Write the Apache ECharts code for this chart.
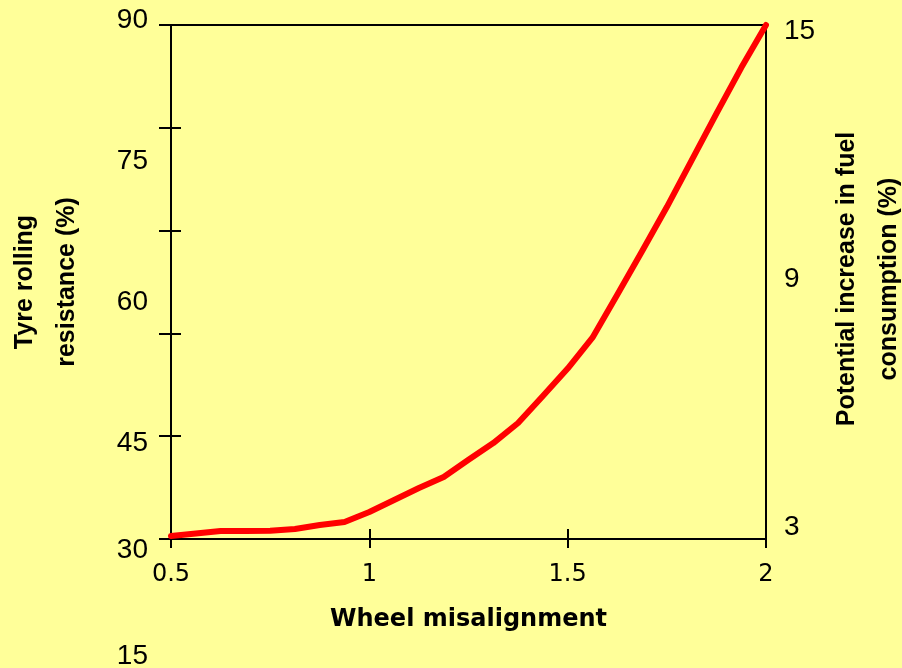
<!DOCTYPE html>
<html>
<head>
<meta charset="utf-8">
<script src="https://cdn.jsdelivr.net/npm/echarts@6/dist/echarts.min.js"></script>
<style>
  html, body { margin: 0; padding: 0; background: #FFFF99; }
  #chart { width: 902px; height: 668px; }
</style>
</head>
<body>
<div id="chart"></div>
<script>
// ---- data ----
const misalignment = [0.5, 0.5625, 0.625, 0.6875, 0.75, 0.8125, 0.875, 0.9375, 1.0, 1.0625, 1.125, 1.1875, 1.25,
  1.3125, 1.375, 1.4375, 1.5, 1.5625, 1.625, 1.6875, 1.75, 1.8125, 1.875, 1.9375, 2.0];
const rollingResistance = [30.35, 30.64, 30.93, 30.93, 30.95, 31.17, 31.63, 31.98, 33.15, 34.55, 35.95, 37.24, 39.26,
  41.2, 43.54, 46.7, 49.9, 53.5, 58.5, 63.6, 68.75, 74.2, 79.65, 85.0, 90.0];

const xTickValues = [0.5, 1, 1.5, 2];
const leftTickValues = [30, 42, 54, 66, 78, 90];
const leftLabelsUpper = [45, 60, 75, 90];
const leftLabelsLower = [15, 30];
const rightLabels = [3, 9, 15];

const xTitle = 'Wheel misalignment';
const leftTitle = 'Tyre rolling\nresistance (%)';
const rightTitle = 'Potential increase in fuel\nconsumption (%)';

// ---- chart ----
const chart = echarts.init(document.getElementById('chart'), null, { renderer: 'canvas' });
const black = '#000000';
const numFont = 'Liberation Sans';
const G = { left: 171, right: 136 };

const hiddenX = (gi) => ({ gridIndex: gi, type: 'value', show: false, min: 0, max: 1 });

const option = {
  backgroundColor: '#FFFF99',
  animation: false,
  grid: [
    { left: G.left, right: G.right, top: 25, bottom: 129, show: true, borderColor: black, borderWidth: 2,
      backgroundColor: 'transparent', outerBoundsMode: 'none' },
    { left: G.left, right: G.right, top: 20, height: 423, outerBoundsMode: 'none' },
    { left: G.left, right: G.right, top: 550, height: 106, outerBoundsMode: 'none' },
    { left: G.left, right: G.right, top: 31, height: 496, outerBoundsMode: 'none' }
  ],
  xAxis: [
    {
      gridIndex: 0, type: 'value', position: 'bottom',
      min: Math.min(...xTickValues), max: Math.max(...xTickValues), interval: 0.5,
      axisLine: { show: true, lineStyle: { color: black, width: 2 } },
      axisTick: { show: true, inside: false, length: 9, customValues: xTickValues, lineStyle: { color: black, width: 2 } },
      axisLabel: { show: true, customValues: xTickValues, margin: 24, color: black, fontSize: 24, fontFamily: 'DejaVu Sans' },
      splitLine: { show: false },
      name: xTitle, nameLocation: 'middle', nameGap: 69,
      nameTextStyle: { color: black, fontSize: 24, fontWeight: 'bold', fontFamily: 'DejaVu Sans' }
    },
    {
      gridIndex: 0, type: 'value', position: 'bottom',
      min: Math.min(...xTickValues), max: Math.max(...xTickValues), interval: 0.5,
      axisLine: { show: true, lineStyle: { color: black, width: 2 } },
      axisTick: { show: true, inside: true, length: 10, customValues: xTickValues, lineStyle: { color: black, width: 2 } },
      axisLabel: { show: false },
      splitLine: { show: false }
    },
    hiddenX(1), hiddenX(2), hiddenX(3)
  ],
  yAxis: [
    {
      gridIndex: 0, type: 'value', position: 'left',
      min: Math.min(...leftTickValues), max: Math.max(...leftTickValues),
      axisLine: { show: true, lineStyle: { color: black, width: 2 } },
      axisTick: { show: true, inside: false, length: 12, customValues: leftTickValues, lineStyle: { color: black, width: 2 } },
      axisLabel: { show: false },
      splitLine: { show: false },
      name: leftTitle, nameLocation: 'middle', nameRotate: 90, nameGap: 83,
      nameTextStyle: { color: black, fontSize: 25, fontWeight: 'bold', fontFamily: numFont, lineHeight: 42 }
    },
    {
      gridIndex: 0, type: 'value', position: 'left',
      min: Math.min(...leftTickValues), max: Math.max(...leftTickValues),
      axisLine: { show: true, lineStyle: { color: black, width: 2 } },
      axisTick: { show: true, inside: true, length: 10, customValues: leftTickValues, lineStyle: { color: black, width: 2 } },
      axisLabel: { show: false },
      splitLine: { show: false }
    },
    {
      gridIndex: 1, type: 'value', position: 'left',
      min: Math.min(...leftLabelsUpper), max: Math.max(...leftLabelsUpper), interval: 15,
      axisLine: { show: false }, axisTick: { show: false }, splitLine: { show: false },
      axisLabel: { show: true, customValues: leftLabelsUpper, margin: 23, color: black, fontSize: 28, fontFamily: numFont }
    },
    {
      gridIndex: 2, type: 'value', position: 'left',
      min: Math.min(...leftLabelsLower), max: Math.max(...leftLabelsLower), interval: 15,
      axisLine: { show: false }, axisTick: { show: false }, splitLine: { show: false },
      axisLabel: { show: true, customValues: leftLabelsLower, margin: 23, color: black, fontSize: 28, fontFamily: numFont }
    },
    {
      gridIndex: 3, type: 'value', position: 'right',
      min: Math.min(...rightLabels), max: Math.max(...rightLabels),
      axisLine: { show: false }, axisTick: { show: false }, splitLine: { show: false },
      axisLabel: { show: true, customValues: rightLabels, margin: 18, color: black, fontSize: 28, fontFamily: numFont },
      name: rightTitle, nameLocation: 'middle', nameRotate: 90, nameGap: 60,
      nameTextStyle: { color: black, fontSize: 25, fontWeight: 'bold', fontFamily: numFont, lineHeight: 42 }
    }
  ],
  series: [
    {
      type: 'line',
      xAxisIndex: 0, yAxisIndex: 0,
      data: misalignment.map((x, i) => [x, rollingResistance[i]]),
      showSymbol: false, symbol: 'none',
      clip: false,
      lineStyle: { color: '#FF0000', width: 6, join: 'round', cap: 'round' },
      z: 5
    }
  ]
};
chart.setOption(option);
</script>
</body>
</html>
